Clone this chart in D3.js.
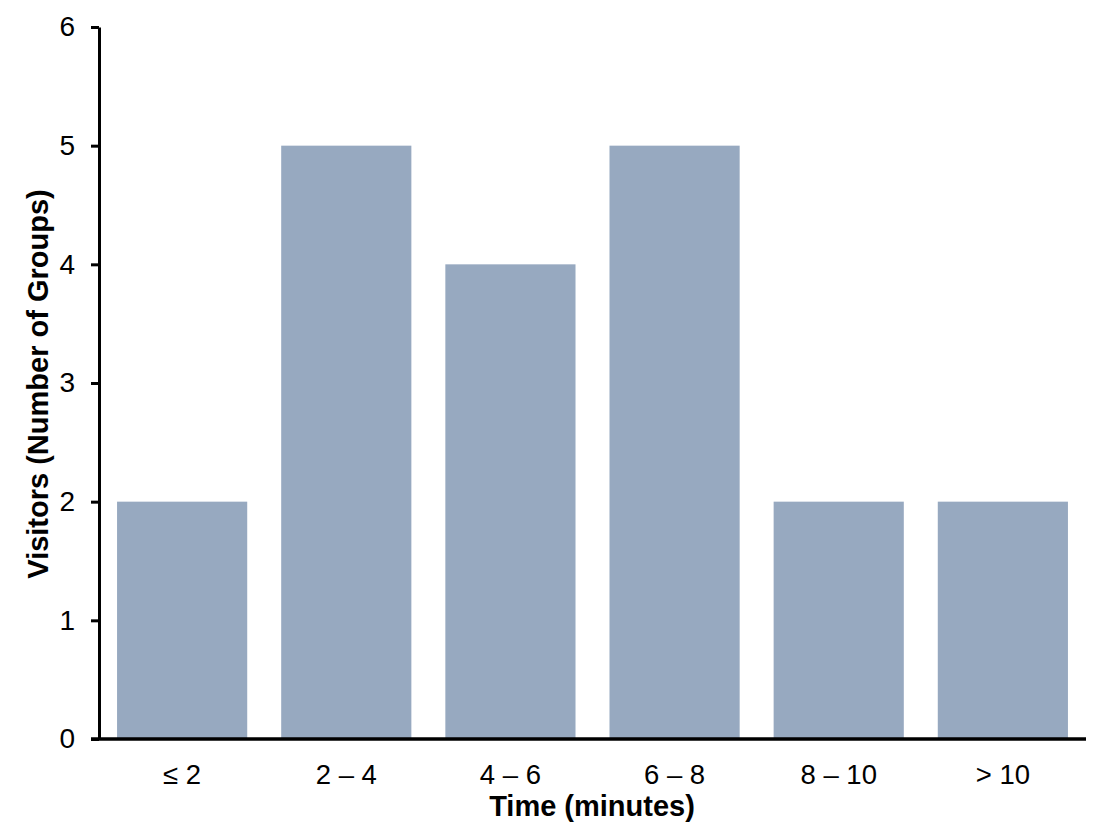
<!DOCTYPE html>
<html><head><meta charset="utf-8">
<script src="https://cdn.jsdelivr.net/npm/d3@7"></script>
<style>body{margin:0;background:#fff}svg{display:block}text{font-family:"Liberation Sans",Arial,sans-serif}</style>
</head><body>
<svg id="c" width="1101" height="838"></svg>
<script>
const categories = ["≤ 2", "2 – 4", "4 – 6", "6 – 8", "8 – 10", "> 10"];
const visitors = [2, 5, 4, 5, 2, 2];
const yTicks = [0, 1, 2, 3, 4, 5, 6];

const svg = d3.select("#c");
const x0 = 99, x1 = 1086, yTop = 27, yBot = 739;
const x = d3.scaleBand().domain(categories).range([x0, x1]).paddingInner(0.207).paddingOuter(0.11);
const y = d3.scaleLinear().domain([0, 6]).range([yBot, yTop]);

svg.selectAll("rect.bar").data(categories).join("rect")
  .attr("class","bar")
  .attr("x", d => x(d)).attr("width", x.bandwidth())
  .attr("y", (d,i) => y(visitors[i])).attr("height", (d,i) => y(0) - y(visitors[i]))
  .attr("fill", "#97a9c0");

// y axis
const ya = svg.append("g").attr("transform", `translate(${x0},0)`)
  .call(d3.axisLeft(y).tickValues(yTicks).tickFormat(d3.format("d")).tickSize(8).tickPadding(16).tickSizeOuter(0));
ya.select(".domain").attr("stroke","#000").attr("stroke-width",3);
ya.selectAll(".tick line").attr("stroke","#000").attr("stroke-width",3);
ya.selectAll(".tick text").attr("font-size",28).attr("fill","#000");

// x axis
const xa = svg.append("g").attr("transform", `translate(0,${yBot})`)
  .call(d3.axisBottom(x).tickSize(0).tickPadding(25));
xa.select(".domain").attr("stroke","#000").attr("stroke-width",3.5).attr("d", `M${x0-8},0H${x1}`);
xa.selectAll(".tick text").attr("font-size",27.5).attr("fill","#000");

svg.append("text").attr("x", 592).attr("y", 816).attr("text-anchor","middle")
  .attr("font-size",29).attr("font-weight","bold").text("Time (minutes)");
svg.append("text").attr("transform","translate(48,384) rotate(-90)").attr("text-anchor","middle")
  .attr("font-size",29).attr("font-weight","bold").text("Visitors (Number of Groups)");
</script>
</body></html>
